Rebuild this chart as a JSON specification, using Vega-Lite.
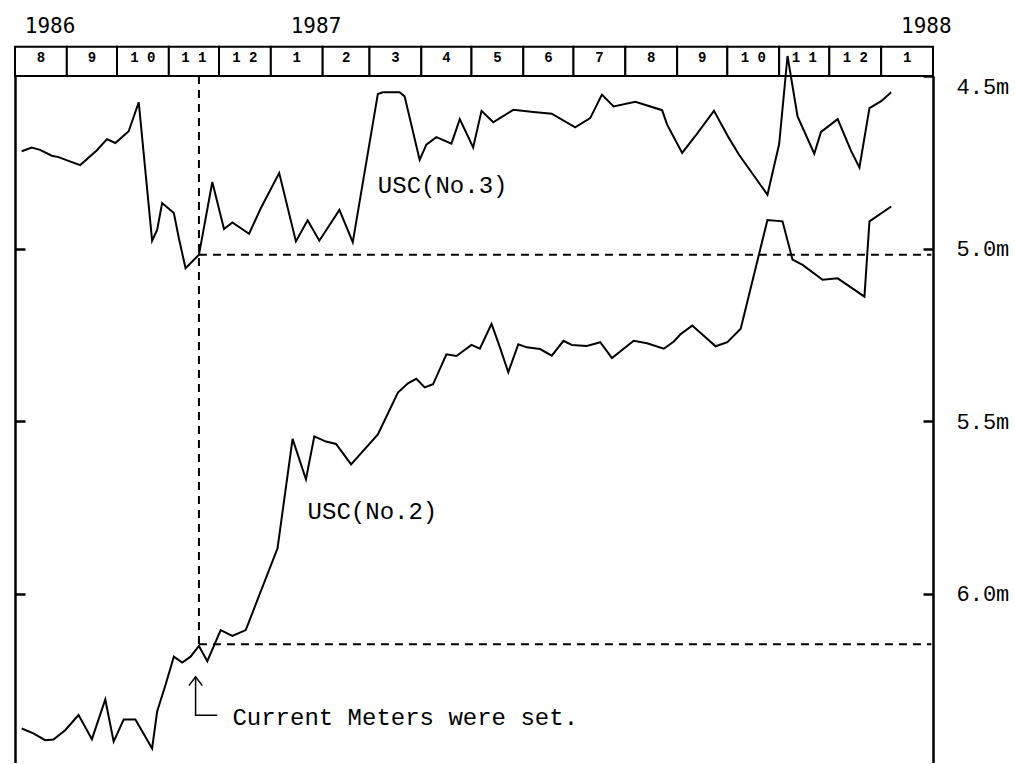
{
  "$schema": "https://vega.github.io/schema/vega-lite/v6.json",
  "padding": {"left": 13, "top": 14, "right": 5, "bottom": 0},
  "bounds": "flush",
  "spacing": 0,
  "background": "white",
  "config": {"view": {"stroke": null}, "font": "Liberation Mono"},
  "resolve": {"scale": {"y": "independent"}},
  "datasets": {
    "months": [
      {"start": "1986-08-01", "end": "1986-09-01", "label": "8"},
      {"start": "1986-09-01", "end": "1986-10-01", "label": "9"},
      {"start": "1986-10-01", "end": "1986-11-01", "label": "1 0"},
      {"start": "1986-11-01", "end": "1986-12-01", "label": "1 1"},
      {"start": "1986-12-01", "end": "1987-01-01", "label": "1 2"},
      {"start": "1987-01-01", "end": "1987-02-01", "label": "1"},
      {"start": "1987-02-01", "end": "1987-03-01", "label": "2"},
      {"start": "1987-03-01", "end": "1987-04-01", "label": "3"},
      {"start": "1987-04-01", "end": "1987-05-01", "label": "4"},
      {"start": "1987-05-01", "end": "1987-06-01", "label": "5"},
      {"start": "1987-06-01", "end": "1987-07-01", "label": "6"},
      {"start": "1987-07-01", "end": "1987-08-01", "label": "7"},
      {"start": "1987-08-01", "end": "1987-09-01", "label": "8"},
      {"start": "1987-09-01", "end": "1987-10-01", "label": "9"},
      {"start": "1987-10-01", "end": "1987-11-01", "label": "1 0"},
      {"start": "1987-11-01", "end": "1987-12-01", "label": "1 1"},
      {"start": "1987-12-01", "end": "1988-01-01", "label": "1 2"},
      {"start": "1988-01-01", "end": "1988-02-01", "label": "1"}
    ],
    "years": [
      {"date": "1986-08-22", "year": "1986"},
      {"date": "1987-01-28", "year": "1987"},
      {"date": "1988-01-28", "year": "1988"}
    ],
    "levels": [
      {"series": "USC(No.3)", "date": "1986-08-05", "depth": 4.718},
      {"series": "USC(No.3)", "date": "1986-08-11", "depth": 4.707},
      {"series": "USC(No.3)", "date": "1986-08-16", "depth": 4.714},
      {"series": "USC(No.3)", "date": "1986-08-23", "depth": 4.731},
      {"series": "USC(No.3)", "date": "1986-08-27", "depth": 4.735},
      {"series": "USC(No.3)", "date": "1986-09-02", "depth": 4.746},
      {"series": "USC(No.3)", "date": "1986-09-09", "depth": 4.758},
      {"series": "USC(No.3)", "date": "1986-09-19", "depth": 4.715},
      {"series": "USC(No.3)", "date": "1986-09-25", "depth": 4.683},
      {"series": "USC(No.3)", "date": "1986-09-30", "depth": 4.694},
      {"series": "USC(No.3)", "date": "1986-10-08", "depth": 4.660},
      {"series": "USC(No.3)", "date": "1986-10-14", "depth": 4.576},
      {"series": "USC(No.3)", "date": "1986-10-22", "depth": 4.977},
      {"series": "USC(No.3)", "date": "1986-10-25", "depth": 4.946},
      {"series": "USC(No.3)", "date": "1986-10-28", "depth": 4.868},
      {"series": "USC(No.3)", "date": "1986-11-04", "depth": 4.897},
      {"series": "USC(No.3)", "date": "1986-11-07", "depth": 4.970},
      {"series": "USC(No.3)", "date": "1986-11-11", "depth": 5.057},
      {"series": "USC(No.3)", "date": "1986-11-19", "depth": 5.018},
      {"series": "USC(No.3)", "date": "1986-11-27", "depth": 4.807},
      {"series": "USC(No.3)", "date": "1986-12-04", "depth": 4.943},
      {"series": "USC(No.3)", "date": "1986-12-09", "depth": 4.924},
      {"series": "USC(No.3)", "date": "1986-12-19", "depth": 4.957},
      {"series": "USC(No.3)", "date": "1986-12-26", "depth": 4.883},
      {"series": "USC(No.3)", "date": "1987-01-06", "depth": 4.781},
      {"series": "USC(No.3)", "date": "1987-01-16", "depth": 4.979},
      {"series": "USC(No.3)", "date": "1987-01-23", "depth": 4.918},
      {"series": "USC(No.3)", "date": "1987-01-30", "depth": 4.977},
      {"series": "USC(No.3)", "date": "1987-02-11", "depth": 4.888},
      {"series": "USC(No.3)", "date": "1987-02-19", "depth": 4.981},
      {"series": "USC(No.3)", "date": "1987-03-06", "depth": 4.552},
      {"series": "USC(No.3)", "date": "1987-03-09", "depth": 4.547},
      {"series": "USC(No.3)", "date": "1987-03-19", "depth": 4.547},
      {"series": "USC(No.3)", "date": "1987-03-22", "depth": 4.559},
      {"series": "USC(No.3)", "date": "1987-03-31", "depth": 4.743},
      {"series": "USC(No.3)", "date": "1987-04-04", "depth": 4.699},
      {"series": "USC(No.3)", "date": "1987-04-10", "depth": 4.677},
      {"series": "USC(No.3)", "date": "1987-04-19", "depth": 4.696},
      {"series": "USC(No.3)", "date": "1987-04-24", "depth": 4.625},
      {"series": "USC(No.3)", "date": "1987-05-02", "depth": 4.707},
      {"series": "USC(No.3)", "date": "1987-05-07", "depth": 4.601},
      {"series": "USC(No.3)", "date": "1987-05-14", "depth": 4.634},
      {"series": "USC(No.3)", "date": "1987-05-18", "depth": 4.622},
      {"series": "USC(No.3)", "date": "1987-05-26", "depth": 4.598},
      {"series": "USC(No.3)", "date": "1987-06-07", "depth": 4.604},
      {"series": "USC(No.3)", "date": "1987-06-18", "depth": 4.609},
      {"series": "USC(No.3)", "date": "1987-07-02", "depth": 4.649},
      {"series": "USC(No.3)", "date": "1987-07-11", "depth": 4.622},
      {"series": "USC(No.3)", "date": "1987-07-18", "depth": 4.554},
      {"series": "USC(No.3)", "date": "1987-07-25", "depth": 4.588},
      {"series": "USC(No.3)", "date": "1987-08-07", "depth": 4.575},
      {"series": "USC(No.3)", "date": "1987-08-23", "depth": 4.599},
      {"series": "USC(No.3)", "date": "1987-08-26", "depth": 4.641},
      {"series": "USC(No.3)", "date": "1987-09-04", "depth": 4.723},
      {"series": "USC(No.3)", "date": "1987-09-12", "depth": 4.673},
      {"series": "USC(No.3)", "date": "1987-09-23", "depth": 4.601},
      {"series": "USC(No.3)", "date": "1987-10-02", "depth": 4.680},
      {"series": "USC(No.3)", "date": "1987-10-08", "depth": 4.728},
      {"series": "USC(No.3)", "date": "1987-10-25", "depth": 4.844},
      {"series": "USC(No.3)", "date": "1987-11-01", "depth": 4.697},
      {"series": "USC(No.3)", "date": "1987-11-06", "depth": 4.442},
      {"series": "USC(No.3)", "date": "1987-11-12", "depth": 4.617},
      {"series": "USC(No.3)", "date": "1987-11-22", "depth": 4.725},
      {"series": "USC(No.3)", "date": "1987-11-26", "depth": 4.662},
      {"series": "USC(No.3)", "date": "1987-11-29", "depth": 4.651},
      {"series": "USC(No.3)", "date": "1987-12-06", "depth": 4.625},
      {"series": "USC(No.3)", "date": "1987-12-14", "depth": 4.717},
      {"series": "USC(No.3)", "date": "1987-12-19", "depth": 4.765},
      {"series": "USC(No.3)", "date": "1987-12-25", "depth": 4.593},
      {"series": "USC(No.3)", "date": "1988-01-01", "depth": 4.573},
      {"series": "USC(No.3)", "date": "1988-01-07", "depth": 4.547},
      {"series": "USC(No.2)", "date": "1986-08-05", "depth": 6.390},
      {"series": "USC(No.2)", "date": "1986-08-12", "depth": 6.404},
      {"series": "USC(No.2)", "date": "1986-08-19", "depth": 6.424},
      {"series": "USC(No.2)", "date": "1986-08-24", "depth": 6.422},
      {"series": "USC(No.2)", "date": "1986-08-31", "depth": 6.395},
      {"series": "USC(No.2)", "date": "1986-09-08", "depth": 6.351},
      {"series": "USC(No.2)", "date": "1986-09-16", "depth": 6.421},
      {"series": "USC(No.2)", "date": "1986-09-24", "depth": 6.306},
      {"series": "USC(No.2)", "date": "1986-09-29", "depth": 6.428},
      {"series": "USC(No.2)", "date": "1986-10-05", "depth": 6.364},
      {"series": "USC(No.2)", "date": "1986-10-12", "depth": 6.364},
      {"series": "USC(No.2)", "date": "1986-10-22", "depth": 6.448},
      {"series": "USC(No.2)", "date": "1986-10-25", "depth": 6.341},
      {"series": "USC(No.2)", "date": "1986-10-30", "depth": 6.264},
      {"series": "USC(No.2)", "date": "1986-11-04", "depth": 6.182},
      {"series": "USC(No.2)", "date": "1986-11-09", "depth": 6.199},
      {"series": "USC(No.2)", "date": "1986-11-14", "depth": 6.182},
      {"series": "USC(No.2)", "date": "1986-11-19", "depth": 6.151},
      {"series": "USC(No.2)", "date": "1986-11-24", "depth": 6.195},
      {"series": "USC(No.2)", "date": "1986-12-02", "depth": 6.105},
      {"series": "USC(No.2)", "date": "1986-12-09", "depth": 6.122},
      {"series": "USC(No.2)", "date": "1986-12-17", "depth": 6.105},
      {"series": "USC(No.2)", "date": "1987-01-05", "depth": 5.868},
      {"series": "USC(No.2)", "date": "1987-01-14", "depth": 5.551},
      {"series": "USC(No.2)", "date": "1987-01-22", "depth": 5.668},
      {"series": "USC(No.2)", "date": "1987-01-27", "depth": 5.544},
      {"series": "USC(No.2)", "date": "1987-02-03", "depth": 5.559},
      {"series": "USC(No.2)", "date": "1987-02-09", "depth": 5.566},
      {"series": "USC(No.2)", "date": "1987-02-18", "depth": 5.625},
      {"series": "USC(No.2)", "date": "1987-03-06", "depth": 5.538},
      {"series": "USC(No.2)", "date": "1987-03-18", "depth": 5.417},
      {"series": "USC(No.2)", "date": "1987-03-24", "depth": 5.390},
      {"series": "USC(No.2)", "date": "1987-03-29", "depth": 5.377},
      {"series": "USC(No.2)", "date": "1987-04-03", "depth": 5.402},
      {"series": "USC(No.2)", "date": "1987-04-08", "depth": 5.393},
      {"series": "USC(No.2)", "date": "1987-04-16", "depth": 5.306},
      {"series": "USC(No.2)", "date": "1987-04-22", "depth": 5.311},
      {"series": "USC(No.2)", "date": "1987-05-01", "depth": 5.279},
      {"series": "USC(No.2)", "date": "1987-05-06", "depth": 5.290},
      {"series": "USC(No.2)", "date": "1987-05-13", "depth": 5.218},
      {"series": "USC(No.2)", "date": "1987-05-18", "depth": 5.286},
      {"series": "USC(No.2)", "date": "1987-05-23", "depth": 5.358},
      {"series": "USC(No.2)", "date": "1987-05-29", "depth": 5.277},
      {"series": "USC(No.2)", "date": "1987-06-03", "depth": 5.286},
      {"series": "USC(No.2)", "date": "1987-06-11", "depth": 5.291},
      {"series": "USC(No.2)", "date": "1987-06-18", "depth": 5.310},
      {"series": "USC(No.2)", "date": "1987-06-25", "depth": 5.267},
      {"series": "USC(No.2)", "date": "1987-06-30", "depth": 5.279},
      {"series": "USC(No.2)", "date": "1987-07-09", "depth": 5.282},
      {"series": "USC(No.2)", "date": "1987-07-17", "depth": 5.271},
      {"series": "USC(No.2)", "date": "1987-07-24", "depth": 5.317},
      {"series": "USC(No.2)", "date": "1987-08-06", "depth": 5.267},
      {"series": "USC(No.2)", "date": "1987-08-14", "depth": 5.274},
      {"series": "USC(No.2)", "date": "1987-08-24", "depth": 5.290},
      {"series": "USC(No.2)", "date": "1987-08-30", "depth": 5.269},
      {"series": "USC(No.2)", "date": "1987-09-03", "depth": 5.248},
      {"series": "USC(No.2)", "date": "1987-09-10", "depth": 5.223},
      {"series": "USC(No.2)", "date": "1987-09-24", "depth": 5.283},
      {"series": "USC(No.2)", "date": "1987-10-01", "depth": 5.271},
      {"series": "USC(No.2)", "date": "1987-10-09", "depth": 5.232},
      {"series": "USC(No.2)", "date": "1987-10-25", "depth": 4.917},
      {"series": "USC(No.2)", "date": "1987-11-03", "depth": 4.921},
      {"series": "USC(No.2)", "date": "1987-11-09", "depth": 5.032},
      {"series": "USC(No.2)", "date": "1987-11-15", "depth": 5.047},
      {"series": "USC(No.2)", "date": "1987-11-27", "depth": 5.090},
      {"series": "USC(No.2)", "date": "1987-12-06", "depth": 5.086},
      {"series": "USC(No.2)", "date": "1987-12-22", "depth": 5.139},
      {"series": "USC(No.2)", "date": "1987-12-25", "depth": 4.921},
      {"series": "USC(No.2)", "date": "1988-01-07", "depth": 4.878}
    ],
    "guides": [
      {"seg": "vertical", "date": "1986-11-19", "depth": 4.5},
      {"seg": "vertical", "date": "1986-11-19", "depth": 6.151},
      {"seg": "No.3 level", "date": "1986-11-19", "depth": 5.018},
      {"seg": "No.3 level", "date": "1988-01-31", "depth": 5.018},
      {"seg": "No.2 level", "date": "1986-11-19", "depth": 6.146},
      {"seg": "No.2 level", "date": "1988-01-31", "depth": 6.146}
    ],
    "arrow": [
      {"seg": "stem", "date": "1986-11-17", "depth": 6.240},
      {"seg": "stem", "date": "1986-11-17", "depth": 6.352},
      {"seg": "stem", "date": "1986-11-30", "depth": 6.352},
      {"seg": "head", "date": "1986-11-13", "depth": 6.266},
      {"seg": "head", "date": "1986-11-17", "depth": 6.240},
      {"seg": "head", "date": "1986-11-21", "depth": 6.266}
    ],
    "notes": [
      {"date": "1987-03-06", "depth": 4.819, "text": "USC(No.3)"},
      {"date": "1987-01-23", "depth": 5.762, "text": "USC(No.2)"},
      {"date": "1986-12-09", "depth": 6.361, "text": "Current Meters were set."}
    ]
  },
  "vconcat": [
    {
      "width": 918,
      "height": 62,
      "layer": [
        {
          "data": {"name": "months"},
          "mark": {"type": "rect", "fill": "white", "stroke": "black", "strokeWidth": 2},
          "encoding": {
            "x": {"field": "start", "type": "temporal", "scale": {"type": "utc", "domain": ["1986-08-01", "1988-02-01"]}, "axis": null},
            "x2": {"field": "end"},
            "y": {"datum": 0, "type": "quantitative", "scale": {"domain": [0, 1], "nice": false}, "axis": null},
            "y2": {"datum": 0.47}
          }
        },
        {
          "data": {"name": "months"},
          "mark": {"type": "text", "font": "Liberation Mono", "fontWeight": "bold", "fontSize": 14, "baseline": "middle", "align": "center", "color": "black"},
          "encoding": {
            "x": {"field": "start", "type": "temporal", "timeUnit": "utcyearmonth", "bandPosition": 0.5},
            "y": {"datum": 0.29, "type": "quantitative"},
            "text": {"field": "label"}
          }
        },
        {
          "data": {"name": "years"},
          "mark": {"type": "text", "font": "DejaVu Sans Mono", "fontSize": 21, "baseline": "middle", "align": "center", "color": "black"},
          "encoding": {
            "x": {"field": "date", "type": "temporal"},
            "y": {"datum": 0.79, "type": "quantitative"},
            "text": {"field": "year"}
          }
        }
      ]
    },
    {
      "width": 918,
      "height": 687,
      "resolve": {"axis": {"y": "independent"}},
      "layer": [
        {
          "data": {"name": "levels"},
          "mark": {"type": "line", "color": "black", "strokeWidth": 2},
          "encoding": {
            "x": {"field": "date", "type": "temporal", "scale": {"type": "utc", "domain": ["1986-08-01", "1988-02-01"]}, "axis": null},
            "y": {"field": "depth", "type": "quantitative", "scale": {"domain": [4.5, 6.49], "reverse": true, "zero": false, "nice": false},
              "axis": {"orient": "left", "values": [5.0, 5.5, 6.0], "labels": false, "title": null, "grid": false, "tickSize": -10, "tickWidth": 2.5, "tickColor": "black", "domainColor": "black", "domainWidth": 2.5}},
            "detail": {"field": "series"}
          }
        },
        {
          "data": {"name": "guides"},
          "mark": {"type": "line", "color": "black", "strokeWidth": 2, "strokeDash": [8, 6]},
          "encoding": {
            "x": {"field": "date", "type": "temporal"},
            "y": {"field": "depth", "type": "quantitative",
              "axis": {"orient": "right", "values": [4.5, 5.0, 5.5, 6.0], "labelExpr": "format(datum.value, '.1f') + 'm'", "title": null, "grid": false, "tickSize": -10, "tickWidth": 2.5, "tickColor": "black", "domainColor": "black", "domainWidth": 2.5, "labelFont": "Liberation Mono", "labelFontSize": 22, "labelColor": "black", "labelPadding": 33, "labelFlush": true}},
            "detail": {"field": "seg"}
          }
        },
        {
          "data": {"name": "arrow"},
          "mark": {"type": "line", "color": "black", "strokeWidth": 1.5},
          "encoding": {
            "x": {"field": "date", "type": "temporal"},
            "y": {"field": "depth", "type": "quantitative", "axis": null},
            "detail": {"field": "seg"}
          }
        },
        {
          "data": {"name": "notes"},
          "mark": {"type": "text", "font": "Liberation Mono", "fontSize": 24, "align": "left", "baseline": "middle", "color": "black"},
          "encoding": {
            "x": {"field": "date", "type": "temporal"},
            "y": {"field": "depth", "type": "quantitative", "axis": null},
            "text": {"field": "text"}
          }
        }
      ]
    }
  ]
}
